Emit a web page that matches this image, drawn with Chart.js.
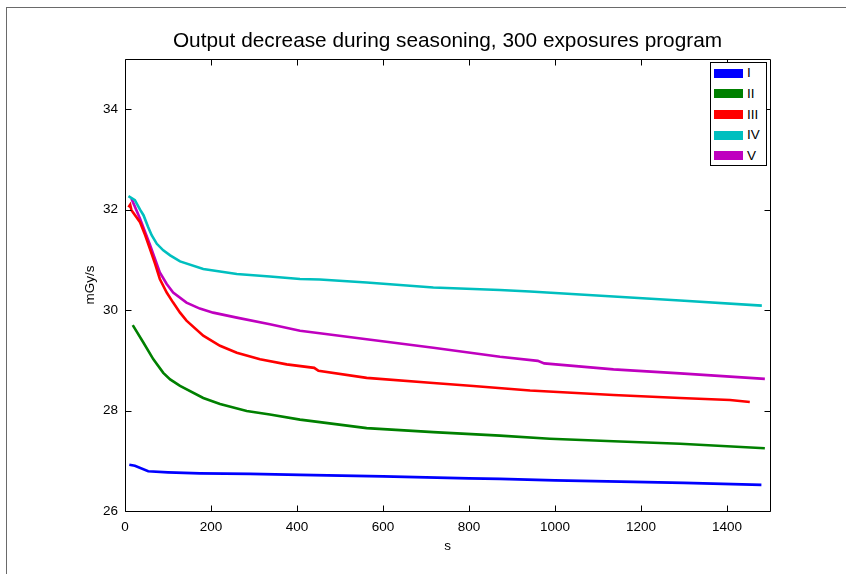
<!DOCTYPE html>
<html>
<head>
<meta charset="utf-8">
<script src="https://cdn.jsdelivr.net/npm/chart.js@4.4.0/dist/chart.umd.min.js"></script>
<style>
  html, body { margin: 0; padding: 0; background: #fff; }
  #wrap { position: relative; width: 846px; height: 574px; overflow: hidden; background: #fff; }
  #frame { position: absolute; left: 6px; top: 7px; width: 2000px; height: 2000px;
           border-left: 1px solid #6a6a6a; border-top: 1px solid #6a6a6a; }
  #cv { position: absolute; left: 0; top: 0; }
  #title { position: absolute; left: 0; top: 27px; width: 895px; text-align: center;
           font-family: "Liberation Sans", Arial, sans-serif; font-size: 20.8px; line-height: 25px; color: #000; white-space: nowrap; }
  #legend { position: absolute; left: 710px; top: 62px; width: 57px; height: 104px;
            box-sizing: border-box; border: 1px solid #000; background: #fff;
            font-family: "Liberation Sans", Arial, sans-serif; font-size: 13.5px; color: #000; }
  .row { position: absolute; left: 0; height: 20px; width: 100%; }
  .sw { position: absolute; left: 3px; width: 29px; height: 9px; top: 5.5px; }
  .lb { position: absolute; left: 36px; top: 2px; line-height: 16px; color: #000; }
</style>
</head>
<body>
<div id="wrap">
  <div id="frame"></div>
  <canvas id="cv" width="846" height="574"></canvas>
  <div id="title"></div>
  <div id="legend"></div>
</div>
<script>
// ---- data ----
const seriesNames = ["I", "II", "III", "IV", "V"];
const seriesColors = ["#0000ff", "#008000", "#ff0000", "#00bfbf", "#bf00bf"];

const tI = [10, 23, 54, 100, 174, 291, 407, 600, 800, 872, 1000, 1182, 1300, 1480];
const vI = [26.92, 26.90, 26.79, 26.77, 26.75, 26.74, 26.72, 26.69, 26.65, 26.64, 26.61, 26.58, 26.56, 26.52];

const tII = [18, 43, 66, 89, 105, 128, 182, 221, 283, 337, 407, 453, 562, 717, 872, 988, 1136, 1291, 1488];
const vII = [29.70, 29.35, 29.02, 28.75, 28.62, 28.49, 28.25, 28.13, 27.99, 27.92, 27.82, 27.77, 27.65, 27.57, 27.50, 27.44, 27.39, 27.34, 27.25];

const tIII = [8, 12, 15, 35, 47, 58, 70, 81, 97, 112, 128, 143, 182, 221, 260, 314, 376, 440, 450, 562, 717, 810, 942, 1136, 1291, 1407, 1453];
const vIII = [32.05, 32.10, 31.99, 31.75, 31.49, 31.22, 30.92, 30.62, 30.35, 30.15, 29.95, 29.79, 29.49, 29.29, 29.15, 29.02, 28.92, 28.85, 28.79, 28.65, 28.55, 28.49, 28.40, 28.31, 28.25, 28.21, 28.17];

const tIV = [8, 23, 35, 43, 54, 62, 74, 89, 105, 128, 182, 260, 337, 407, 453, 562, 717, 872, 942, 1136, 1291, 1481];
const vIV = [32.27, 32.19, 32.00, 31.89, 31.65, 31.49, 31.32, 31.19, 31.09, 30.97, 30.82, 30.72, 30.67, 30.62, 30.61, 30.55, 30.45, 30.40, 30.37, 30.27, 30.19, 30.09];

const tV = [15, 35, 58, 81, 97, 112, 143, 174, 205, 260, 337, 407, 453, 562, 717, 872, 960, 975, 1136, 1291, 1488];
const vV = [32.22, 31.82, 31.30, 30.75, 30.52, 30.35, 30.15, 30.03, 29.95, 29.85, 29.72, 29.59, 29.54, 29.42, 29.25, 29.07, 28.99, 28.94, 28.82, 28.74, 28.63];

const xTicks = [0, 200, 400, 600, 800, 1000, 1200, 1400];
const yTicks = [26, 28, 30, 32, 34];
const titleText = "Output decrease during seasoning, 300 exposures program";
const xLabel = "s";
const yLabel = "mGy/s";

// ---- build ----
document.getElementById('title').textContent = titleText;

const allT = [tI, tII, tIII, tIV, tV];
const allV = [vI, vII, vIII, vIV, vV];
const datasets = seriesNames.map((n, i) => ({
  label: n,
  data: allT[i].map((t, k) => ({ x: t, y: allV[i][k] })),
  borderColor: seriesColors[i],
  backgroundColor: seriesColors[i],
  borderWidth: 2.6,
  pointRadius: 0,
  tension: 0,
  fill: false
}));

const FONT = "'Liberation Sans', Arial, sans-serif";

const boxPlugin = {
  id: 'matlabBox',
  afterDraw(chart) {
    const ctx = chart.ctx;
    const a = chart.chartArea;
    const xs = chart.scales.x, ys = chart.scales.y;
    ctx.save();
    ctx.strokeStyle = '#000';
    ctx.lineWidth = 1;
    const L = Math.round(a.left) + 0.5, R = Math.round(a.right) + 0.5;
    const T = Math.round(a.top) + 0.5, B = Math.round(a.bottom) + 0.5;
    ctx.beginPath();
    ctx.rect(L, T, R - L, B - T);
    const tl = 6;
    xs.ticks.forEach(tk => {
      const p = Math.round(xs.getPixelForValue(tk.value)) + 0.5;
      ctx.moveTo(p, B); ctx.lineTo(p, B - tl);
      ctx.moveTo(p, T); ctx.lineTo(p, T + tl);
    });
    ys.ticks.forEach(tk => {
      const p = Math.round(ys.getPixelForValue(tk.value)) + 0.5;
      ctx.moveTo(L, p); ctx.lineTo(L + tl, p);
      ctx.moveTo(R, p); ctx.lineTo(R - tl, p);
    });
    ctx.stroke();
    ctx.restore();
  }
};

new Chart(document.getElementById('cv'), {
  type: 'line',
  data: { datasets },
  plugins: [boxPlugin],
  options: {
    responsive: false,
    animation: false,
    devicePixelRatio: 1,
    layout: { padding: { left: 0, top: 59, right: 76, bottom: 0 } },
    plugins: {
      legend: { display: false },
      tooltip: { enabled: false },
      title: { display: false }
    },
    scales: {
      x: {
        type: 'linear', min: 0, max: 1500,
        afterFit(s) { s.height = 63; },
        afterBuildTicks(s) { s.ticks = xTicks.map(v => ({ value: v })); },
        grid: { display: false, drawTicks: false },
        border: { display: false },
        ticks: { color: '#000', padding: 8.5, maxRotation: 0, autoSkip: false,
                 callback: v => String(v),
                 font: { family: FONT, size: 13.5 } },
        title: { display: true, text: xLabel, color: '#000',
                 font: { family: FONT, size: 13.5 }, padding: { bottom: 20 } }
      },
      y: {
        type: 'linear', min: 26, max: 35,
        afterFit(s) { s.width = 125; },
        afterBuildTicks(s) { s.ticks = yTicks.map(v => ({ value: v })); },
        grid: { display: false, drawTicks: false },
        border: { display: false },
        ticks: { color: '#000', padding: 7, autoSkip: false,
                 callback: v => String(v),
                 font: { family: FONT, size: 13.5 } },
        title: { display: true, text: yLabel, color: '#000',
                 font: { family: FONT, size: 13.5 }, padding: { top: 82 } }
      }
    }
  }
});

// HTML legend built from the datasets
const lg = document.getElementById('legend');
seriesNames.forEach((n, i) => {
  const r = document.createElement('div');
  r.className = 'row';
  r.style.top = (0.3 + 20.6 * i) + 'px';
  r.innerHTML = '<div class="sw" style="background:' + seriesColors[i] + '"></div><div class="lb">' + n + '</div>';
  lg.appendChild(r);
});
</script>
</body>
</html>
